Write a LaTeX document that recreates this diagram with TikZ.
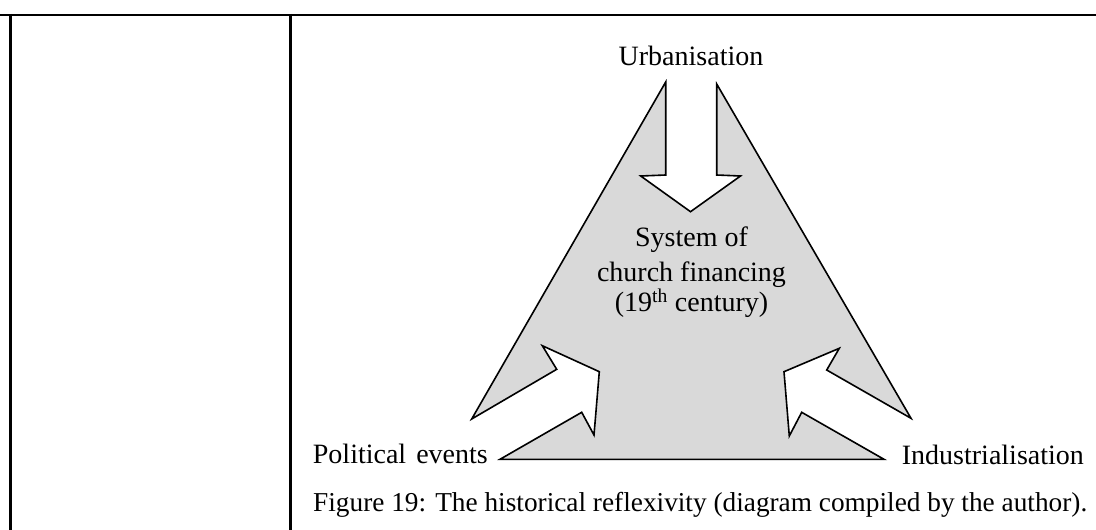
\documentclass[tikz,border=0pt]{standalone}
\usepackage{fontspec}
\setmainfont{Liberation Serif}
\definecolor{shade}{HTML}{D9D9D9}
\begin{document}
\begin{tikzpicture}[x=1pt,y=-1pt,
  frameline/.style={line width=2.5pt,black},
  txt/.style={inner sep=0pt,font=\fontsize{28}{35}\selectfont},
  captxt/.style={inner sep=0pt,font=\fontsize{27.3}{33}\selectfont},
  arrowshape/.style={fill=shade,draw=black,line width=1.6pt,line join=miter}]
\useasboundingbox (0,0) rectangle (1096,530);
% frame
\draw[frameline] (0,15) -- (1096,15);
\draw[frameline] (10.5,13.75) -- (10.5,530);
\draw[frameline] (290.3,13.75) -- (290.3,530);
% triangle with three inward arrows
\coordinate (A1) at (665.7,82);
\coordinate (A2) at (665.7,175);
\coordinate (A3) at (640.7,176);
\coordinate (A4) at (690.5,211.7);
\coordinate (A5) at (740.5,176);
\coordinate (A6) at (716.7,175);
\coordinate (A7) at (716.7,84);
\coordinate (R1) at (911,418.3);
\coordinate (R2) at (826.7,370);
\coordinate (R3) at (839.3,348.3);
\coordinate (R4) at (784,371.7);
\coordinate (R5) at (789.3,436);
\coordinate (R6) at (801.7,412.3);
\coordinate (R7) at (884,459.3);
\coordinate (L7) at (500,459.3);
\coordinate (L6) at (581.7,412.3);
\coordinate (L5) at (594,435);
\coordinate (L4) at (599.3,371.7);
\coordinate (L3) at (542.3,345.7);
\coordinate (L2) at (556.7,369.3);
\coordinate (L1) at (471.7,419);
\draw[arrowshape] (A1) -- (A2) -- (A3) -- (A4) -- (A5) -- (A6) -- (A7)
  -- (R1) -- (R2) -- (R3) -- (R4) -- (R5) -- (R6) -- (R7)
  -- (L7) -- (L6) -- (L5) -- (L4) -- (L3) -- (L2) -- (L1) -- cycle;
% labels
\node[txt,anchor=base] (urb) at (691,65) {Urbanisation};
\node[txt,anchor=base,align=center] (sys) at (691.5,311.7) {System of\\church financing\\[-5pt](19\textsuperscript{th} century)};
\node[txt,anchor=base west] (pol) at (312.7,463.3) {Political\hspace{3pt} events};
\node[txt,anchor=base west] (ind) at (901.7,464) {Industrialisation};
\node[captxt,anchor=base west] (cap) at (313,511.7) {Figure 19: The historical reflexivity (diagram compiled by the author).};
\end{tikzpicture}
\end{document}
